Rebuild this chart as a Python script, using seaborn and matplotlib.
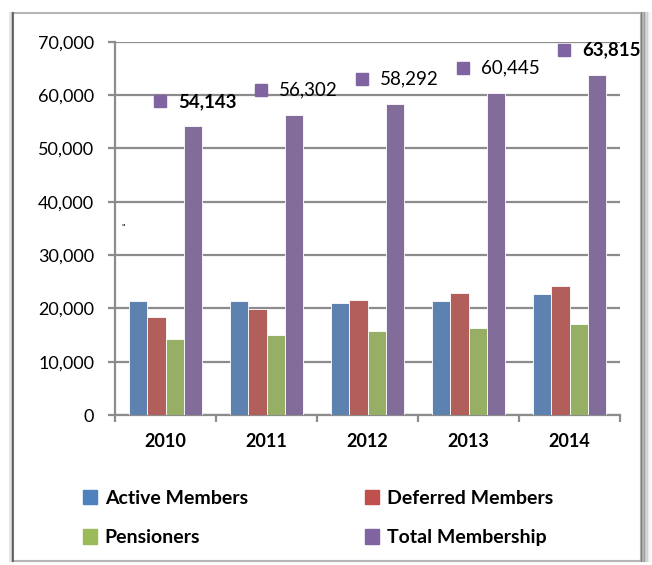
import matplotlib
matplotlib.use('Agg')
import matplotlib.pyplot as plt
import matplotlib.transforms as mtransforms
from matplotlib.patches import Rectangle
from matplotlib.ticker import FuncFormatter, FixedLocator
import seaborn as sns
import pandas as pd

years = ['2010', '2011', '2012', '2013', '2014']
active = [21400, 21450, 21000, 21300, 22650]
deferred = [18450, 19850, 21530, 22820, 24150]
pensioners = [14293, 15002, 15762, 16325, 17015]
total = [54143, 56302, 58292, 60445, 63815]
total_bold = [True, False, False, False, True]
series = ['Active Members', 'Deferred Members', 'Pensioners', 'Total Membership']
colors = ['#4F81BD', '#C0504D', '#9BBB59', '#8064A2']

df = pd.DataFrame({
    'year': years * 4,
    'series': [s for s in series for _ in years],
    'value': active + deferred + pensioners + total,
})

plt.rcParams['font.family'] = ['Lato', 'DejaVu Sans']
grid_c = '#8c8c8c'

fig = plt.figure(figsize=(6.52, 5.65), dpi=100)
ax = fig.add_axes([115/652, 150/565, 505/652, 373.3/565])

sns.barplot(data=df, x='year', y='value', hue='series', hue_order=series,
            palette=colors, width=0.73, gap=0, edgecolor='white',
            linewidth=0.6, ax=ax, legend=False, zorder=3)

ax.set_ylim(0, 70000)
ax.set_xlim(-0.5, 4.5)
ax.set_yticks(range(0, 70001, 10000))
ax.yaxis.set_major_formatter(FuncFormatter(lambda v, p: f'{int(v):,}'))
ax.grid(axis='y', color=grid_c, lw=1.6, zorder=0)
ax.set_axisbelow(True)
ax.set_xlabel('')
ax.set_ylabel('')
for s in ['top', 'right']:
    ax.spines[s].set_visible(False)
for s in ['left', 'bottom']:
    ax.spines[s].set_color(grid_c)
    ax.spines[s].set_linewidth(1.6)
ax.tick_params(axis='y', length=5, width=1.6, color=grid_c, labelsize=13, pad=10)
ax.tick_params(axis='x', which='major', length=0, labelsize=13, pad=13)
ax.xaxis.set_minor_locator(FixedLocator([i - 0.5 for i in range(6)]))
ax.tick_params(axis='x', which='minor', length=5, width=1.6, color=grid_c)
for t in ax.get_xticklabels():
    t.set_fontweight('bold')

# data labels for total membership with legend key
for bar, val, b in zip(ax.containers[3], total, total_bold):
    cx = bar.get_x() + bar.get_width() / 2
    top = bar.get_height()
    mk_tr = mtransforms.offset_copy(ax.transData, fig=fig, x=-33, y=25, units='dots')
    ax.plot([cx], [top], marker='s', ms=8.5, color=colors[3], transform=mk_tr, clip_on=False)
    tx_tr = mtransforms.offset_copy(ax.transData, fig=fig, x=-15, y=25, units='dots')
    ax.text(cx, top, f'{val:,}', transform=tx_tr, ha='left', va='center',
            fontsize=13.5, fontweight='bold' if b else 'normal', clip_on=False)

fig.text(123/652, 1 - 228/565, '"', fontsize=7, ha='center', va='center')

# legend filled row by row: Active, Deferred / Pensioners, Total
order = [0, 2, 1, 3]
handles = [Rectangle((0, 0), 1, 1, color=colors[i]) for i in order]
labels = [series[i] for i in order]
fig.legend(handles, labels, ncol=2, loc='center left',
           bbox_to_anchor=(65/652, 1 - 518/565), frameon=False,
           prop={'weight': 'bold', 'size': 14}, handlelength=0.75, handleheight=0.75,
           handletextpad=0.4, columnspacing=6.0, labelspacing=1.15)

# chart frame with shadow
fig.patches.append(Rectangle((13/652, 4/565), 628/652, 548/565, transform=fig.transFigure,
                             fill=False, edgecolor='#b5b5b5', lw=1.5))
for i, a in enumerate([0.5, 0.4, 0.3, 0.2, 0.12, 0.06]):
    x = (642 + i * 1.6) / 652
    fig.add_artist(plt.Line2D([x, x], [4/565, 552/565], color='black', alpha=a * 0.6, lw=1.6))
for i, a in enumerate([0.35, 0.2, 0.1]):
    x = (13 - i * 1.5) / 652
    fig.add_artist(plt.Line2D([x, x], [4/565, 552/565], color='black', alpha=a, lw=1.5))

fig.savefig('out.png', dpi=100)
